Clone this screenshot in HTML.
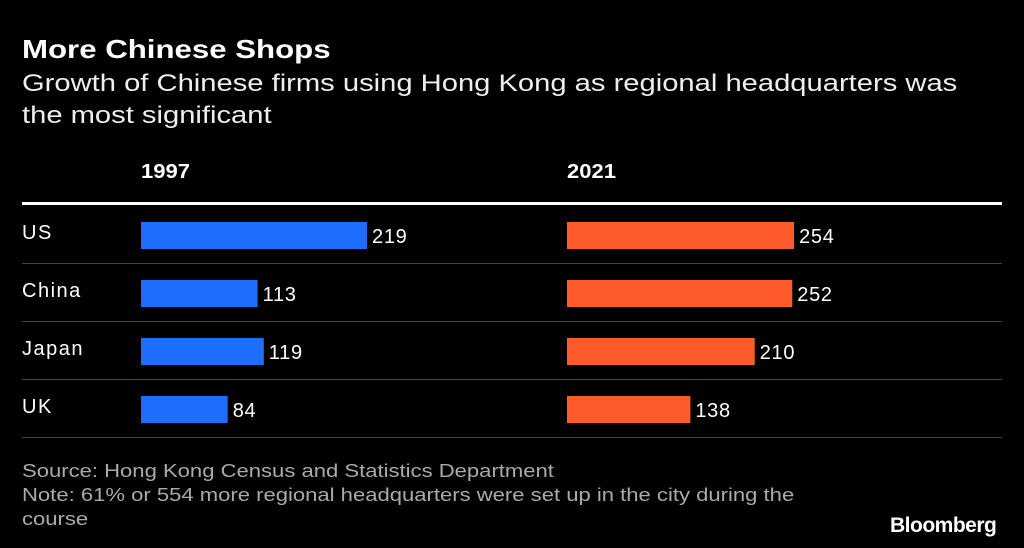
<!DOCTYPE html>
<html><head><meta charset="utf-8"><style>
body{margin:0;background:#000;width:1024px;height:548px;overflow:hidden;font-family:"Liberation Sans",sans-serif;color:#fff;position:relative}
.t{position:absolute;white-space:nowrap;transform-origin:0 0}
</style></head><body>
<div class="t" style="left:22px;top:34px;font-size:26px;font-weight:bold;transform:scaleX(1.2)">More Chinese Shops</div>
<div class="t" style="left:22px;top:68px;font-size:24px;line-height:32px;color:#eee;transform:scaleX(1.215)">Growth of Chinese firms using Hong Kong as regional headquarters was<br>the most significant</div>
<div class="t" style="left:141px;top:161px;font-size:20px;font-weight:bold;transform:scaleX(1.1)">1997</div>
<div class="t" style="left:567px;top:161px;font-size:20px;font-weight:bold;transform:scaleX(1.1)">2021</div>
<svg id="c" width="1024" height="548" style="position:absolute;left:0;top:0"></svg>
<div class="t" style="left:22px;top:459px;font-size:18px;line-height:24px;color:#aaa;transform:scaleX(1.225)">Source: Hong Kong Census and Statistics Department<br>Note: 61% or 554 more regional headquarters were set up in the city during the<br>course</div>
<div class="t" style="left:890px;top:514px;font-size:21px;font-weight:bold;letter-spacing:-0.5px">Bloomberg</div>
<script>
const categories=["US","China","Japan","UK"];
const values1997=[219,113,119,84];
const values2021=[254,252,210,138];
const NS="http://www.w3.org/2000/svg";
const svg=document.getElementById('c');
function mk(t,a){const e=document.createElementNS(NS,t);for(const k in a)e.setAttribute(k,a[k]);svg.appendChild(e);return e;}
const x1=v=>v*1.032, x2=v=>v*0.894;
const rowY=i=>205+i*58;
let hl=mk('line',{x1:22,x2:1002,y1:203.5,y2:203.5,stroke:'#fff','stroke-width':3});


categories.forEach((c,i)=>{
  const y=rowY(i), cy=y+30;
  let l=mk('text',{x:22,y:cy+4,fill:'#fff','font-size':20,'letter-spacing':1.5,'font-family':'Liberation Sans, sans-serif'});l.textContent=c;
  
  
  let b=mk('rect',{x:141,y:cy-13,width:x1(values1997[i]),height:27,fill:'#1f6dff'});
  
  
  let v=mk('text',{x:141+x1(values1997[i])+5,y:cy+8,fill:'#fff','font-size':20,'letter-spacing':0.7,'font-family':'Liberation Sans, sans-serif'});v.textContent=values1997[i];
  
  
  let b2=mk('rect',{x:567,y:cy-13,width:x2(values2021[i]),height:27,fill:'#ff5a2b'});
  
  
  let v2=mk('text',{x:567+x2(values2021[i])+5,y:cy+8,fill:'#fff','font-size':20,'letter-spacing':0.7,'font-family':'Liberation Sans, sans-serif'});v2.textContent=values2021[i];
  
  
  let s=mk('line',{x1:22,x2:1002,y1:y+58.5,y2:y+58.5,stroke:'#444','stroke-width':1});
  
  
});
</script>
</body></html>
